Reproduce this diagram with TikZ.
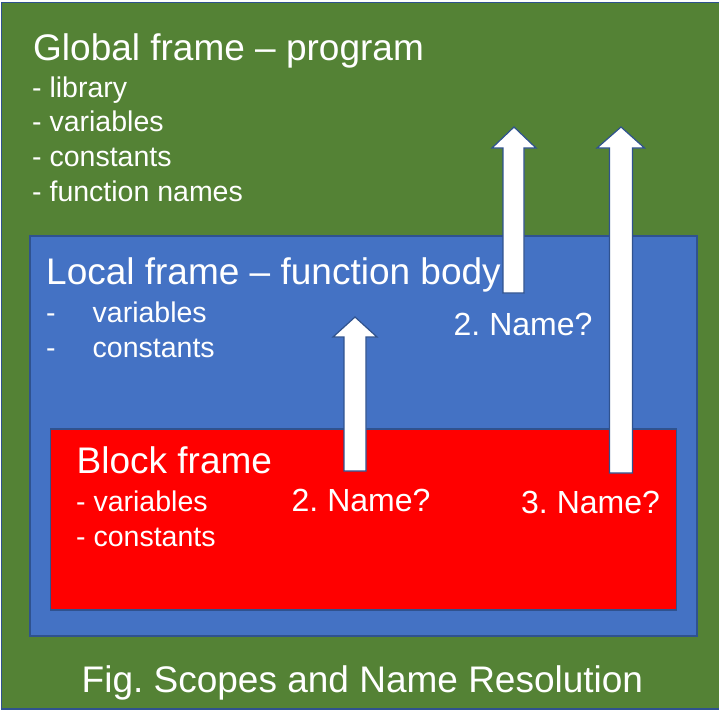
\documentclass[tikz,border=0pt]{standalone}
\usepackage{fontspec}
\setmainfont{Liberation Sans}
\frenchspacing
\definecolor{gfill}{HTML}{548235}
\definecolor{bfill}{HTML}{4472C4}
\definecolor{rfill}{HTML}{FF0000}
\definecolor{edge}{HTML}{2F528F}
\begin{document}
\begin{tikzpicture}[x=1pt,y=-1pt,
  frame/.style={draw=edge,line width=1.5pt},
  title/.style={anchor=base west,inner sep=0pt,text=white,font=\fontsize{37}{44}\selectfont\frenchspacing},
  item/.style={anchor=base west,inner sep=0pt,text=white,font=\fontsize{28.5}{34}\selectfont\frenchspacing},
  lbl/.style={anchor=base west,inner sep=0pt,text=white,font=\fontsize{32}{38}\selectfont\frenchspacing},
  blockarrow/.style={draw=edge,fill=white,line width=1.2pt,line join=miter}]
\useasboundingbox (0,0) rectangle (718,725);
% frames
\path[frame,fill=gfill] (1.5,2.5) rectangle (720,709);
\path[frame,fill=bfill] (30,236) rectangle (697,636);
\path[frame,fill=rfill] (50.5,429) rectangle (676.5,610);
% global texts
\node[title] (gt) at (33,60) {Global frame -- program};
\node[item] (g1) at (32,97) {- library};
\node[item] (g2) at (32,131) {- variables};
\node[item] (g3) at (32,166) {- constants};
\node[item] (g4) at (32,201) {- function names};
% local texts
\node[title] (lt) at (46,284) {Local frame -- function body};
\node[item] (l1d) at (46,322) {-};
\node[item] (l1) at (92.5,322) {variables};
\node[item] (l2d) at (46,357) {-};
\node[item] (l2) at (92.5,357) {constants};
% block texts
\node[title] (bt) at (76.5,473) {Block frame};
\node[item] (b1) at (76,511) {- variables};
\node[item] (b2) at (76,546) {- constants};
% labels
\node[lbl] (n1) at (291.5,511) {2. Name?};
\node[lbl] (n2) at (453.5,335) {2. Name?};
\node[lbl] (n3) at (521,513.5) {3. Name?};
% arrows
\draw[blockarrow] (344,471) -- (344,337) -- (333,337) -- (355,317) -- (377,337) -- (366,337) -- (366,471) -- cycle;
\draw[blockarrow] (503,293) -- (503,148) -- (492,148) -- (514,127) -- (536,148) -- (524,148) -- (524,293) -- cycle;
\draw[blockarrow] (609.5,473) -- (609.5,148) -- (597,148) -- (621,127) -- (644.5,148) -- (632.5,148) -- (632.5,473) -- cycle;
% caption
\node[title] (cap) at (81.5,692) {Fig. Scopes and Name Resolution};
\end{tikzpicture}
\end{document}
